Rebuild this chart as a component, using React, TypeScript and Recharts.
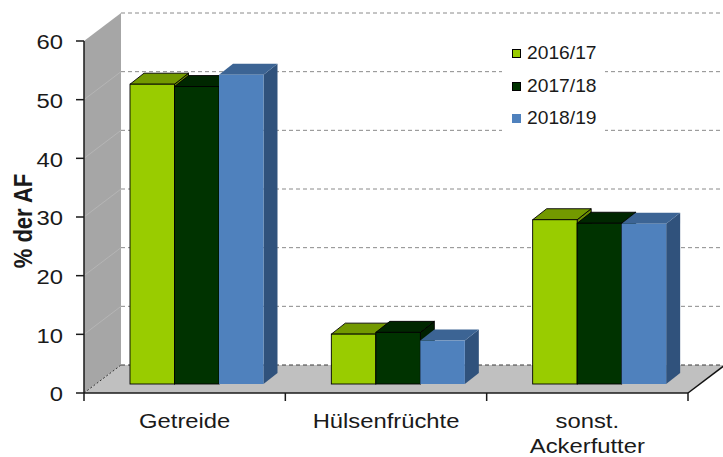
import React from 'react';
import { BarChart, Bar, XAxis, YAxis, CartesianGrid, Legend } from 'recharts';

const categories = ['Getreide', 'Hülsenfrüchte', 'sonst.\nAckerfutter'];
const series1617 = [51.1, 8.5, 28.0];
const series1718 = [50.7, 8.8, 27.4];
const series1819 = [52.7, 7.4, 27.3];
const seriesNames = ['2016/17', '2017/18', '2018/19'];
const yTicks = [0, 10, 20, 30, 40, 50, 60];
const yAxisTitle = '% der AF';

const data = categories.map((c, i) => ({
  name: c,
  s1: series1617[i],
  s2: series1718[i],
  s3: series1819[i],
}));

const FONT = '"Liberation Sans", Arial, Helvetica, sans-serif';
const WALL = { dx: 37, dy: -28 };
const BAR_SHIFT = { dx: 12, dy: -9 };
const BAR_DEPTH = { dx: 14, dy: -11 };
const STRETCH = 1.19;
const INK = '#1a1a1a';

const barStyles = [
  { front: '#99cc00', top: '#739900', side: '#6b8f00', stroke: '#000000' },
  { front: '#003300', top: '#002700', side: '#001f00', stroke: '#000000' },
  { front: '#4f81bd', top: '#3c6494', side: '#30527c', stroke: '' },
];

function makeBarShape(st: any) {
  return (props: any) => {
    const { x, y, width, height } = props;
    if (x == null || y == null || !width || height == null) return <g />;
    const X = x + BAR_SHIFT.dx;
    const Y = y + BAR_SHIFT.dy;
    const W = width;
    const H = height;
    const { dx, dy } = BAR_DEPTH;
    const stroke = st.stroke || 'none';
    const sw = st.stroke ? 0.9 : 0;
    return (
      <g>
        <polygon
          points={`${X + W},${Y} ${X + W + dx},${Y + dy} ${X + W + dx},${Y + H + dy} ${X + W},${Y + H}`}
          fill={st.side}
          stroke={stroke}
          strokeWidth={sw}
          strokeLinejoin="round"
        />
        <polygon
          points={`${X},${Y} ${X + W},${Y} ${X + W + dx},${Y + dy} ${X + dx},${Y + dy}`}
          fill={st.top}
          stroke={stroke}
          strokeWidth={sw}
          strokeLinejoin="round"
        />
        <rect x={X} y={Y} width={W} height={H} fill={st.front} stroke={stroke} strokeWidth={sw} />
      </g>
    );
  };
}

const renderWalls = (p: any) => {
  const { x, y, width, height, y1, index } = p;
  const bottom = y + height;
  if (Math.abs(y1 - bottom) > 0.5) return <g key={`w-${index}`} />;
  const { dx, dy } = WALL;
  return (
    <g key={`w-${index}`}>
      <polygon
        points={`${x},${bottom} ${x},${y} ${x + dx},${y + dy} ${x + dx},${bottom + dy}`}
        fill="#a6a6a6"
      />
      <polygon
        points={`${x},${bottom} ${x + width},${bottom} ${x + width + dx},${bottom + dy} ${x + dx},${bottom + dy}`}
        fill="#c0c0c0"
      />
      <line x1={x} y1={bottom} x2={x + dx} y2={bottom + dy} stroke="#333" strokeWidth={1} strokeDasharray="2 2" />
      <line x1={x + width} y1={bottom} x2={x + width + dx} y2={bottom + dy} stroke="#111" strokeWidth={1.5} />
    </g>
  );
};

const renderGridLine = (p: any) => {
  const { x, y, height, x1, x2, y1, index } = p;
  const { dx, dy } = WALL;
  const isBottom = Math.abs(y1 - (y + height)) < 0.5;
  const isTop = Math.abs(y1 - y) < 0.5;
  return (
    <g key={`gl-${index}`}>
      {!isBottom && !isTop && (
        <line x1={x1} y1={y1} x2={x1 + dx} y2={y1 + dy} stroke="#b9b9b9" strokeWidth={0.8} />
      )}
      <line
        x1={x1 + dx}
        y1={y1 + dy}
        x2={x2 + dx}
        y2={y1 + dy}
        stroke={isBottom ? '#3a3a3a' : '#8a8a8a'}
        strokeWidth={1}
        strokeDasharray="4 3"
      />
    </g>
  );
};

const YTick = (props: any) => {
  const { x, y, payload } = props;
  return (
    <g transform={`translate(${x},${y}) scale(${STRETCH},1)`}>
      <text x={0} y={0} dy="0.42em" textAnchor="end" fontFamily={FONT} fontSize={20} fill={INK}>
        {payload.value}
      </text>
    </g>
  );
};

const XTick = (props: any) => {
  const { x, y, payload, index, visibleTicksCount, width } = props;
  let half = payload && typeof payload.offset === 'number' && payload.offset > 0 ? payload.offset : 0;
  if (!half && width && visibleTicksCount) half = width / visibleTicksCount / 2;
  const lines = String(payload.value).split('\n');
  return (
    <g>
      <line x1={x - half} y1={y} x2={x - half} y2={y + 8} stroke={INK} strokeWidth={1.5} />
      {index === visibleTicksCount - 1 && (
        <line x1={x + half} y1={y} x2={x + half} y2={y + 8} stroke={INK} strokeWidth={1.5} />
      )}
      <g transform={`translate(${x},${y + 34.5}) scale(${STRETCH},1)`}>
        <text x={0} y={0} textAnchor="middle" fontFamily={FONT} fontSize={20} fill={INK}>
          {lines.map((l, i) => (
            <tspan key={i} x={0} dy={i === 0 ? 0 : 25.5}>
              {l}
            </tspan>
          ))}
        </text>
      </g>
    </g>
  );
};

const YTitle = (props: any) => {
  const vb = props.viewBox || { x: 0, y: 41, width: 84, height: 352 };
  const cx = vb.x + 22.5;
  const cy = vb.y + vb.height / 2 + 4;
  return (
    <g transform={`translate(${cx},${cy}) scale(${STRETCH},1) rotate(-90)`}>
      <text x={0} y={0} dy="0.36em" textAnchor="middle" fontFamily={FONT} fontSize={22} fontWeight="bold" fill={INK}>
        {yAxisTitle}
      </text>
    </g>
  );
};

const legendRowCenters = [53, 85.5, 118];

const LegendContent = () => (
  <div style={{ position: 'relative', width: 103, height: 100, background: '#ffffff' }}>
    {seriesNames.map((n, i) => {
      const c = legendRowCenters[i] - 36;
      const st = barStyles[i];
      return (
        <React.Fragment key={n}>
          <div
            style={{
              position: 'absolute',
              left: 10,
              top: c - 4,
              width: st.stroke ? 7 : 9,
              height: st.stroke ? 7 : 9,
              background: st.front,
              border: st.stroke ? '1px solid #000' : 'none',
            }}
          />
          <div
            style={{
              position: 'absolute',
              left: 24.5,
              top: c - 9,
              fontFamily: FONT,
              fontSize: 18.5,
              lineHeight: '18.5px',
              color: INK,
              whiteSpace: 'nowrap',
              transform: 'scaleX(1.04)',
              transformOrigin: 'left center',
            }}
          >
            {n}
          </div>
        </React.Fragment>
      );
    })}
  </div>
);

export default function App() {
  return (
    <div style={{ position: 'absolute', left: 0, top: 0, width: 723, height: 457, background: '#ffffff' }}>
      <BarChart
        width={723}
        height={457}
        data={data}
        margin={{ top: 41, right: 35, left: 0, bottom: 0 }}
        barGap={0}
      >
        <CartesianGrid vertical={false} horizontal={renderWalls} />
        <CartesianGrid vertical={false} horizontal={renderGridLine} />
        <XAxis
          dataKey="name"
          height={64}
          interval={0}
          tickSize={0}
          tickMargin={0}
          tickLine={false}
          axisLine={{ stroke: INK, strokeWidth: 1.5 }}
          tick={<XTick />}
        />
        <YAxis
          width={84}
          domain={[0, 60]}
          ticks={yTicks}
          interval={0}
          tickSize={8}
          tickMargin={13}
          axisLine={{ stroke: INK, strokeWidth: 1.5 }}
          tickLine={{ stroke: INK, strokeWidth: 1.5 }}
          tick={<YTick />}
          label={{ value: yAxisTitle, content: (p: any) => <YTitle {...p} /> }}
        />
        <Legend
          layout="vertical"
          align="center"
          verticalAlign="middle"
          content={() => <LegendContent />}
          wrapperStyle={{ left: 502, top: 36, width: 103, height: 100, margin: 0 }}
        />
        <Bar dataKey="s1" name={seriesNames[0]} barSize={44.5} shape={makeBarShape(barStyles[0])} isAnimationActive={false} />
        <Bar dataKey="s2" name={seriesNames[1]} barSize={44.5} shape={makeBarShape(barStyles[1])} isAnimationActive={false} />
        <Bar dataKey="s3" name={seriesNames[2]} barSize={44.5} shape={makeBarShape(barStyles[2])} isAnimationActive={false} />
      </BarChart>
    </div>
  );
}
